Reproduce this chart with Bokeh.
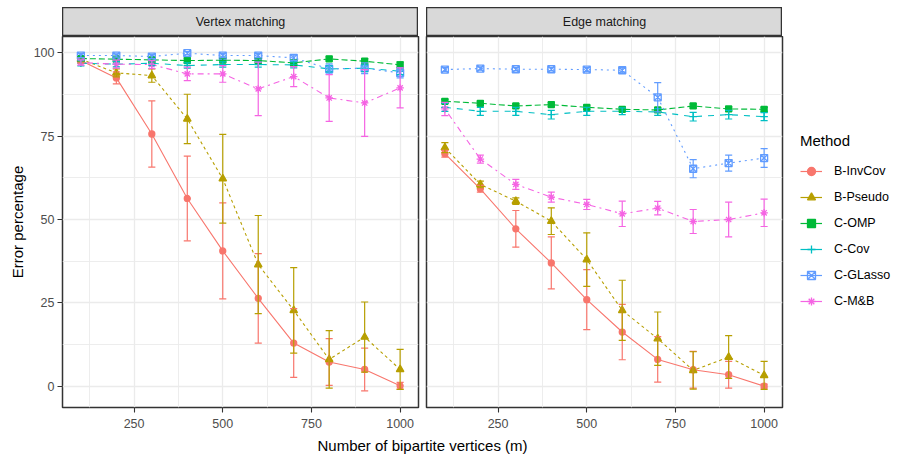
import numpy as np
from bokeh.plotting import figure
from bokeh.layouts import row, column
from bokeh.models import Range1d, Legend, LegendItem, FixedTicker, Spacer
from bokeh.embed import file_html
from bokeh.resources import INLINE
from bokeh.core.properties import value

# ---------------- data ----------------
m_values = [100, 200, 300, 400, 500, 600, 700, 800, 900, 1000]
methods = ["B-InvCov", "B-Pseudo", "C-OMP", "C-Cov", "C-GLasso", "C-M&B"]
panels = ["Vertex matching", "Edge matching"]

# Vertex matching
vm_invcov = [97.6, 92.4, 75.6, 56.3, 40.6, 26.4, 13.0, 7.3, 5.1, 0.2]
vm_invcov_err = [0.8, 1.8, 9.9, 12.7, 14.4, 13.4, 10.3, 7.0, 6.4, 1.0]
vm_pseudo = [98.0, 93.9, 93.1, 80.1, 62.2, 36.5, 22.8, 8.1, 14.8, 5.1]
vm_pseudo_err = [0.8, 1.2, 2.0, 7.4, 13.3, 14.7, 12.8, 8.6, 10.5, 6.0]
vm_omp = [98.2, 98.0, 97.8, 97.6, 97.7, 97.6, 96.9, 98.1, 97.4, 96.3]
vm_omp_err = [0.6, 0.6, 0.6, 0.7, 0.6, 0.7, 0.8, 0.6, 0.8, 0.9]
vm_cov = [96.8, 96.5, 96.8, 96.1, 96.4, 96.4, 96.3, 95.1, 95.3, 94.4]
vm_cov_err = [0.8, 0.8, 0.7, 0.8, 0.8, 0.8, 0.9, 0.9, 1.0, 1.0]
vm_glasso = [99.1, 99.1, 98.8, 99.8, 99.1, 99.1, 98.4, 95.1, 95.3, 93.9]
vm_glasso_err = [0.6, 0.5, 0.6, 0.5, 0.6, 0.6, 0.8, 1.5, 1.6, 1.5]
vm_mb = [97.0, 96.5, 96.4, 93.6, 93.6, 89.1, 92.8, 86.4, 84.9, 89.4]
vm_mb_err = [0.8, 1.2, 1.2, 2.0, 2.5, 8.0, 3.0, 7.0, 10.0, 6.0]

# Edge matching
em_invcov = [69.7, 59.2, 47.2, 37.0, 26.0, 16.3, 8.1, 5.0, 3.5, 0.1]
em_invcov_err = [1.0, 1.0, 5.5, 7.8, 9.0, 8.3, 6.8, 5.5, 4.0, 0.6]
em_pseudo = [71.5, 60.5, 55.5, 49.5, 38.0, 22.8, 14.3, 4.8, 8.8, 3.3]
em_pseudo_err = [1.5, 1.0, 1.0, 4.0, 8.0, 9.0, 8.0, 5.6, 6.4, 4.2]
em_omp = [85.4, 84.8, 84.0, 84.4, 83.6, 83.0, 82.8, 84.0, 83.1, 83.0]
em_omp_err = [0.6, 0.6, 0.6, 0.6, 0.6, 0.6, 0.6, 0.6, 0.6, 0.6]
em_cov = [83.6, 82.4, 82.4, 81.4, 82.4, 82.4, 82.2, 80.8, 81.4, 80.8]
em_cov_err = [1.2, 1.2, 1.2, 1.3, 1.2, 1.0, 1.0, 1.3, 1.3, 1.2]
em_glasso = [94.9, 95.2, 95.0, 95.0, 94.9, 94.7, 86.6, 65.2, 66.9, 68.4]
em_glasso_err = [0.6, 0.5, 0.5, 0.5, 0.6, 0.8, 4.4, 2.7, 2.4, 2.8]
em_mb = [83.1, 68.1, 60.5, 56.7, 54.5, 51.7, 53.4, 49.4, 50.0, 52.0]
em_mb_err = [2.0, 1.2, 1.5, 1.5, 1.5, 3.8, 2.0, 3.6, 5.2, 4.1]

x_ticks = [250, 500, 750, 1000]
x_minor = [125, 375, 625, 875]
y_ticks = [0, 25, 50, 75, 100]
y_minor = [12.5, 37.5, 62.5, 87.5]

x_title = "Number of bipartite vertices (m)"
y_title = "Error percentage"
legend_title = "Method"

# ---------------- style ----------------
FONT = "Liberation Sans"
colors = ["#F8766D", "#B79F00", "#00BA38", "#00BFC4", "#619CFF", "#F564E3"]
markers = ["circle", "triangle", "square", "cross", "square_x", "asterisk"]
msizes = [6, 7.5, 6, 7.5, 7, 7.5]
mfill = [True, True, True, False, False, False]
dashes = ["solid", "3 3", "6 3", "6 6", "2 4", "2 4 6 4"]
FRAME_W, FRAME_H = 356, 371
XR = (48.2, 1051.8)
YR = (-6.3, 104.8)
CAP = 10


def build_panel(vals, errs, left_border, right_border, show_y):
    p = figure(frame_width=FRAME_W, frame_height=FRAME_H,
               x_range=Range1d(*XR), y_range=Range1d(*YR),
               output_backend="svg", toolbar_location=None,
               min_border_left=left_border, min_border_right=right_border,
               min_border_top=0, min_border_bottom=24)
    p.background_fill_color = "white"
    p.border_fill_color = "white"
    p.outline_line_color = "#333333"
    p.outline_line_width = 1.5

    xt = FixedTicker(ticks=x_ticks, minor_ticks=x_minor)
    yt = FixedTicker(ticks=y_ticks, minor_ticks=y_minor)
    p.xaxis.ticker = xt
    p.yaxis.ticker = yt
    p.xgrid.ticker = xt
    p.ygrid.ticker = yt
    for g in (p.xgrid, p.ygrid):
        g.grid_line_color = "#EBEBEB"
        g.grid_line_width = 1.3
        g.minor_grid_line_color = "#EBEBEB"
        g.minor_grid_line_width = 0.9

    for ax in (p.xaxis, p.yaxis):
        ax.axis_line_color = None
        ax.major_tick_line_color = "#333333"
        ax.major_tick_line_width = 1.1
        ax.major_tick_out = 5
        ax.major_tick_in = 0
        ax.minor_tick_line_color = None
        ax.major_label_text_font = FONT
        ax.major_label_text_font_size = "12.5px"
        ax.major_label_text_color = "#4D4D4D"
    p.xaxis.major_label_standoff = 6
    p.yaxis.major_label_standoff = 3
    if show_y:
        p.yaxis.axis_label = y_title
        p.yaxis.axis_label_text_font = FONT
        p.yaxis.axis_label_text_font_size = "15px"
        p.yaxis.axis_label_text_font_style = "normal"
        p.yaxis.axis_label_text_color = "black"
        p.yaxis.axis_label_standoff = 5
    else:
        p.yaxis.visible = False

    xs = np.array(m_values, dtype=float)
    seg_r, pt_r = {}, {}
    for i, name in enumerate(methods):
        p.line(xs, vals[i], line_color=colors[i], line_width=1.1, line_dash=dashes[i])
    for i, name in enumerate(methods):
        pt_r[name] = p.scatter(xs, vals[i], marker=markers[i], size=msizes[i],
                               fill_color=colors[i] if mfill[i] else None,
                               line_color=colors[i], line_width=1.3)
    for i, name in enumerate(methods):
        v = np.array(vals[i], dtype=float)
        e = np.array(errs[i], dtype=float)
        x0 = np.concatenate([xs, xs - CAP, xs - CAP])
        x1 = np.concatenate([xs, xs + CAP, xs + CAP])
        y0 = np.concatenate([v - e, v + e, v - e])
        y1 = np.concatenate([v + e, v + e, v - e])
        seg_r[name] = p.segment(x0, y0, x1, y1, line_color=colors[i], line_width=1.2)
    return p, seg_r, pt_r


def build_strip(label):
    s = figure(width=FRAME_W, height=29, x_range=Range1d(0, 1), y_range=Range1d(0, 1),
               output_backend="svg", toolbar_location=None, min_border=0,
               x_axis_type=None, y_axis_type=None)
    s.grid.visible = False
    s.background_fill_color = "#D9D9D9"
    s.border_fill_color = "white"
    s.outline_line_color = "#333333"
    s.outline_line_width = 1.5
    s.text(x=[0.5], y=[0.5], text=[label], text_align="center", text_baseline="middle",
           text_font=value(FONT), text_font_size="12.5px", text_color="#1A1A1A")
    return s


vm_vals = [vm_invcov, vm_pseudo, vm_omp, vm_cov, vm_glasso, vm_mb]
vm_errs = [vm_invcov_err, vm_pseudo_err, vm_omp_err, vm_cov_err, vm_glasso_err, vm_mb_err]
em_vals = [em_invcov, em_pseudo, em_omp, em_cov, em_glasso, em_mb]
em_errs = [em_invcov_err, em_pseudo_err, em_omp_err, em_cov_err, em_glasso_err, em_mb_err]

p1, _, _ = build_panel(vm_vals, vm_errs, 62, 4, True)
p2, seg_r, pt_r = build_panel(em_vals, em_errs, 4, 120, False)

items = [LegendItem(label=value(name), renderers=[seg_r[name], pt_r[name]]) for name in methods]
legend = Legend(items=items, location=(18, 96), title=legend_title,
                title_text_font=FONT, title_text_font_size="15px", title_text_color="black",
                title_text_font_style="normal", title_standoff=12,
                label_text_font=FONT, label_text_font_size="12.5px", label_text_color="black",
                glyph_width=22, glyph_height=20, label_height=20, spacing=6,
                label_standoff=12, padding=0, margin=0,
                border_line_color=None, background_fill_color=None)
p2.add_layout(legend, "right")

s1 = build_strip(panels[0])
s2 = build_strip(panels[1])

xl = figure(width=902, height=29, x_range=Range1d(0, 902), y_range=Range1d(0, 29),
            output_backend="svg", toolbar_location=None, min_border=0,
            x_axis_type=None, y_axis_type=None)
xl.grid.visible = False
xl.outline_line_color = None
xl.text(x=[422], y=[15], text=[x_title], text_align="center", text_baseline="middle",
        text_font=value(FONT), text_font_size="15px", text_color="black")

layout = column(
    Spacer(width=10, height=7),
    row(Spacer(width=62, height=29), s1, Spacer(width=8, height=29), s2),
    row(p1, p2),
    xl,
)

open("out.html", "w").write(file_html(layout, INLINE))
